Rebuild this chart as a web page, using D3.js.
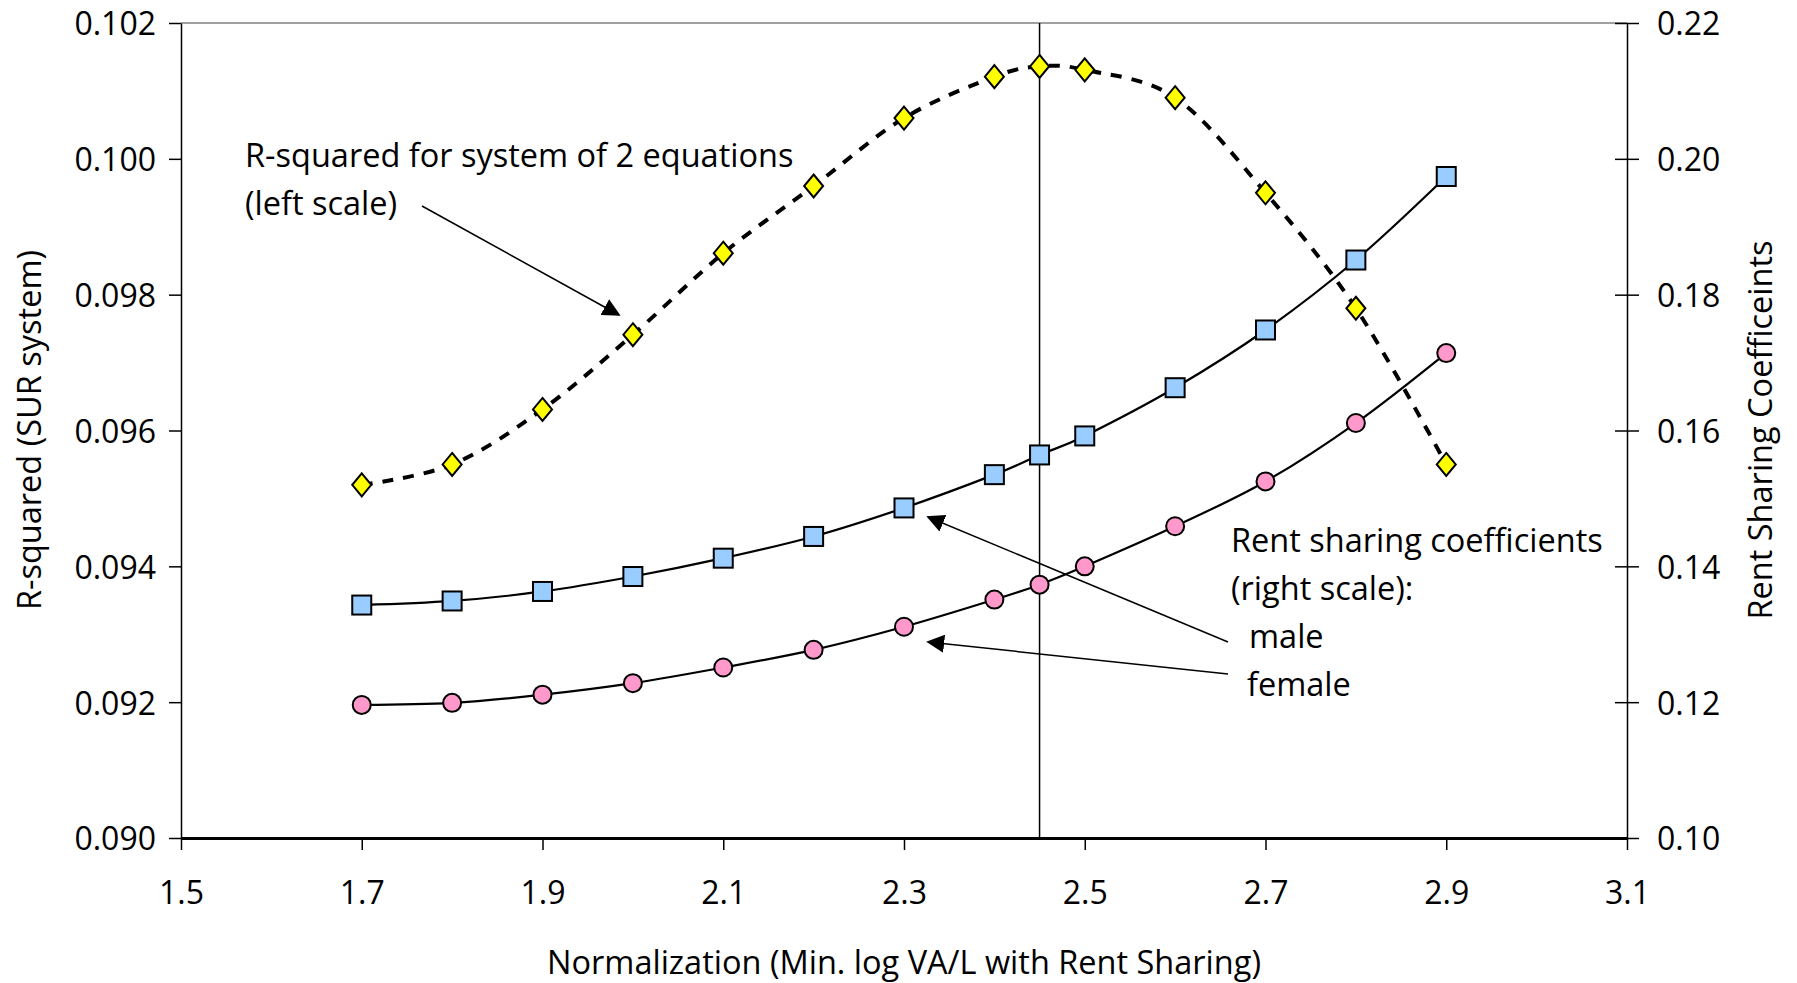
<!DOCTYPE html>
<html><head><meta charset="utf-8">
<script src="https://cdn.jsdelivr.net/npm/d3@7"></script>
<style>
body{margin:0;background:#fff;}
svg text{font-family:"Open Sans",sans-serif;fill:#000;}
</style></head>
<body><svg id="c" width="1797" height="983"></svg>
<script>
const xs = [1.7,1.8,1.9,2.0,2.1,2.2,2.3,2.4,2.45,2.5,2.6,2.7,2.8,2.9];
const rsq = [0.0952,0.09550,0.09631,0.09741,0.09861,0.09960,0.10060,0.10121,0.10136,0.10131,0.10090,0.09950,0.09780,0.09550];
const male = [0.1343,0.1349,0.1363,0.1385,0.1412,0.1444,0.1486,0.1535,0.1564,0.1592,0.1663,0.1748,0.1851,0.1974];
const female = [0.1196,0.1199,0.1211,0.1228,0.1251,0.1277,0.1311,0.1351,0.1373,0.1400,0.1459,0.1525,0.1611,0.1714];
const xTicks = [1.5,1.7,1.9,2.1,2.3,2.5,2.7,2.9,3.1];
const leftTicks = [0.090,0.092,0.094,0.096,0.098,0.100,0.102];
const rightTicks = [0.10,0.12,0.14,0.16,0.18,0.20,0.22];
const vLineX = 2.45;

const W=1797,H=983, L=181, R=1627, T=23, B=838;
const svg = d3.select("#c");
const x = d3.scaleLinear().domain([1.5,3.1]).range([L,R]);
const yL = d3.scaleLinear().domain([0.090,0.102]).range([B,T]);
const yR = d3.scaleLinear().domain([0.10,0.22]).range([B,T]);
const FS = 32.5, TFS = 32;

// top border
svg.append("line").attr("x1",L).attr("x2",R).attr("y1",T).attr("y2",T).attr("stroke","#808080").attr("stroke-width",1.5);

// left axis
const gl = svg.append("g").attr("transform",`translate(${L},0)`)
  .call(d3.axisLeft(yL).tickValues(leftTicks).tickFormat(d3.format(".3f")).tickSize(12).tickSizeOuter(0).tickPadding(13));
// right axis
const gr = svg.append("g").attr("transform",`translate(${R},0)`)
  .call(d3.axisRight(yR).tickValues(rightTicks).tickFormat(d3.format(".2f")).tickSize(12).tickSizeOuter(0).tickPadding(18));
gr.selectAll(".tick line").attr("x1",-12);
// bottom axis
const gb = svg.append("g").attr("transform",`translate(0,${B})`)
  .call(d3.axisBottom(x).tickValues(xTicks).tickFormat(d3.format(".1f")).tickSize(12).tickSizeOuter(0).tickPadding(31));
[gl,gr,gb].forEach(g=>{
  g.selectAll("text").style("font-size",TFS+"px").style("font-family","'Open Sans',sans-serif").attr("fill","#000");
  g.selectAll("line").attr("stroke","#000").attr("stroke-width",1.5);
  g.select(".domain").attr("stroke","#000").attr("stroke-width",1.5);
});
gl.selectAll("text").attr("dy","0.37em");
gr.selectAll("text").attr("dy","0.37em");
gb.select(".domain").attr("stroke-width",3);

// vertical line
svg.append("line").attr("x1",x(vLineX)).attr("x2",x(vLineX)).attr("y1",T).attr("y2",B).attr("stroke","#000").attr("stroke-width",1.5);

const curve = d3.curveCardinal.tension(0);
const dR = xs.map((v,i)=>[x(v),yL(rsq[i])]);
const dM = xs.map((v,i)=>[x(v),yR(male[i])]);
const dF = xs.map((v,i)=>[x(v),yR(female[i])]);
const line = d3.line().curve(curve);
svg.append("path").attr("d",line(dM)).attr("fill","none").attr("stroke","#000").attr("stroke-width",2.2);
svg.append("path").attr("d",line(dF)).attr("fill","none").attr("stroke","#000").attr("stroke-width",2.2);
svg.append("path").attr("d",line(dR)).attr("fill","none").attr("stroke","#000").attr("stroke-width",4).attr("stroke-dasharray","11,10");

// markers
svg.append("g").selectAll("rect").data(dM).join("rect")
  .attr("x",d=>d[0]-9.5).attr("y",d=>d[1]-9.5).attr("width",19).attr("height",19)
  .attr("fill","#99CCFF").attr("stroke","#000").attr("stroke-width",2);
svg.append("g").selectAll("circle").data(dF).join("circle")
  .attr("cx",d=>d[0]).attr("cy",d=>d[1]).attr("r",9)
  .attr("fill","#FF99CC").attr("stroke","#000").attr("stroke-width",2);
svg.append("g").selectAll("path").data(dR).join("path")
  .attr("transform",d=>`translate(${d[0]},${d[1]})`).attr("d","M0,-11.5 L9.5,0 L0,11.5 L-9.5,0 Z")
  .attr("fill","#FFFF00").attr("stroke","#000").attr("stroke-width",2);

// titles
svg.append("text").attr("x",(L+R)/2).attr("y",974).attr("text-anchor","middle").style("font-size",FS+"px")
  .text("Normalization (Min. log VA/L with Rent Sharing)");
svg.append("text").attr("transform","translate(41,430) rotate(-90)").attr("text-anchor","middle").style("font-size",FS+"px")
  .text("R-squared (SUR system)");
svg.append("text").attr("transform","translate(1772,430) rotate(-90)").attr("text-anchor","middle").style("font-size",FS+"px")
  .text("Rent Sharing Coefficeints");

// annotations
function ann(t,xx,yy){svg.append("text").attr("x",xx).attr("y",yy).style("font-size",FS+"px").text(t);}
ann("R-squared for system of 2 equations",245,167);
ann("(left scale)",245,215);
ann("Rent sharing coefficients",1231,552);
ann("(right scale):",1231,600);
ann("male",1249,648);
ann("female",1247,696);

const defs = svg.append("defs");
defs.append("marker").attr("id","ah").attr("viewBox","0 0 10 10").attr("refX",9).attr("refY",5)
  .attr("markerWidth",18).attr("markerHeight",18).attr("markerUnits","userSpaceOnUse").attr("orient","auto")
  .append("path").attr("d","M0,0 L10,5 L0,10 Z").attr("fill","#000");
function arrow(x1,y1,x2,y2){svg.append("line").attr("x1",x1).attr("y1",y1).attr("x2",x2).attr("y2",y2)
  .attr("stroke","#000").attr("stroke-width",1.5).attr("marker-end","url(#ah)");}
arrow(422,206,619,315);
arrow(1228,642,928,517);
arrow(1228,674,928,642);
</script></body></html>
